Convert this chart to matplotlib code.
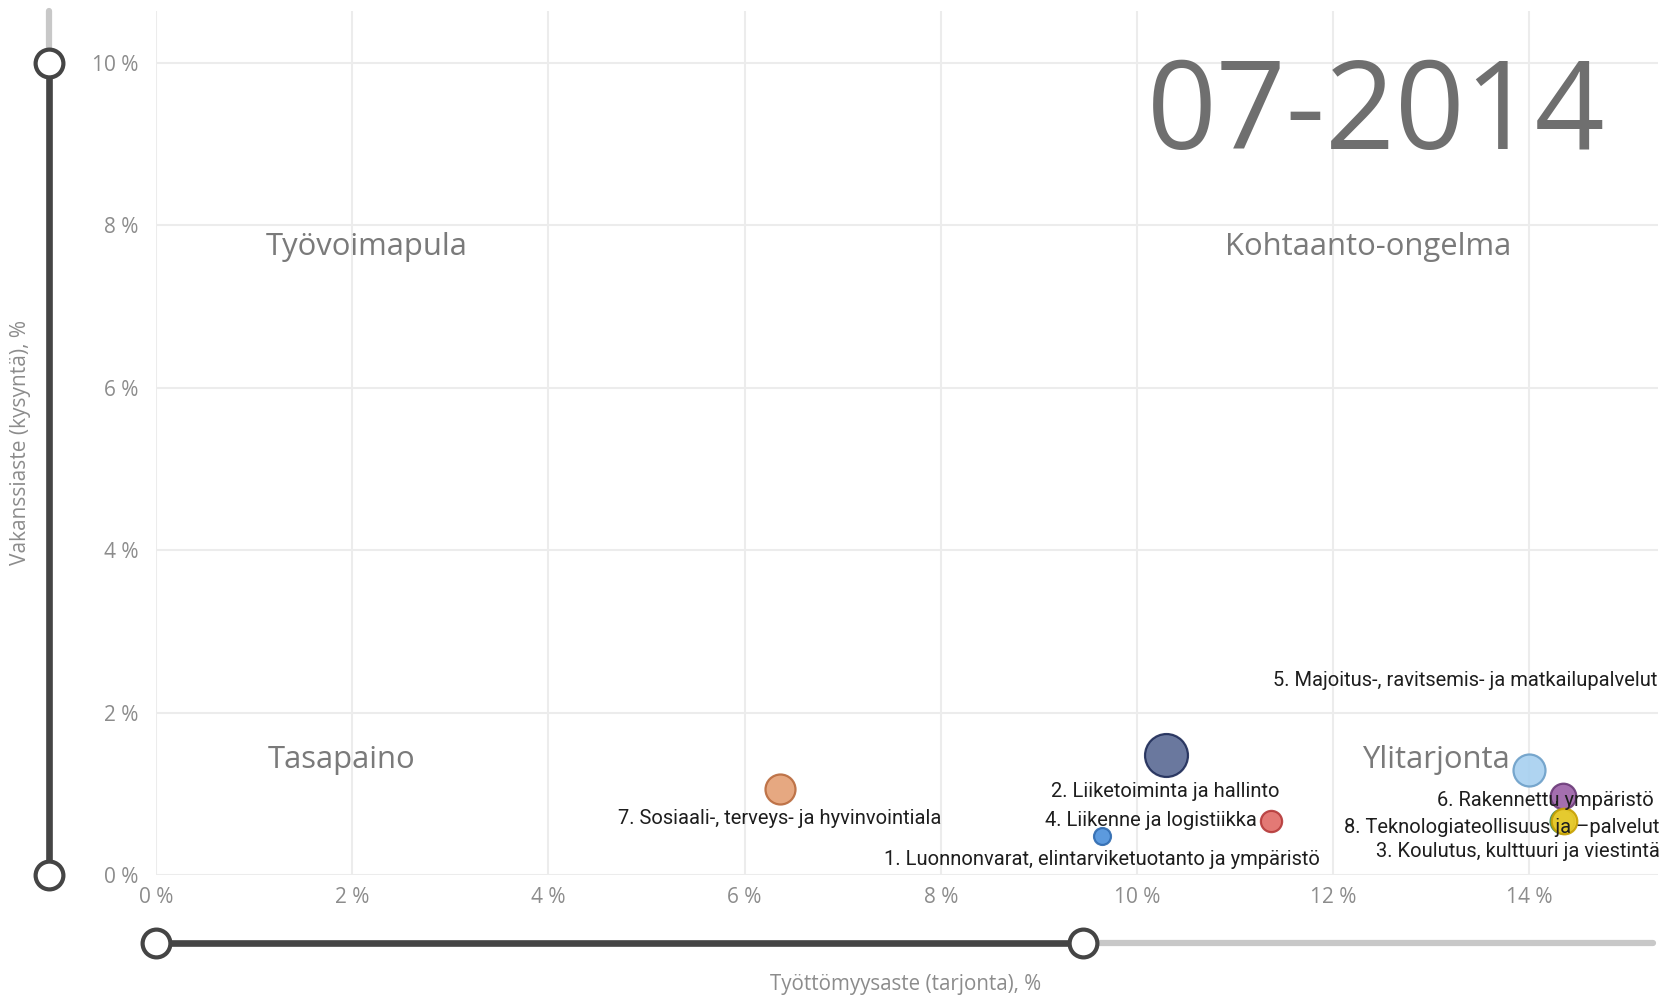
import matplotlib
matplotlib.use("Agg")
import matplotlib.pyplot as plt
from matplotlib.transforms import blended_transform_factory

# Toimialat (labels as shown), työttömyysaste (x) and vakanssiaste (y), bubble size
toimialat = [
    "1. Luonnonvarat, elintarviketuotanto ja ympäristö",
    "2. Liiketoiminta ja hallinto",
    "3. Koulutus, kulttuuri ja viestintä",
    "4. Liikenne ja logistiikka",
    "5. Majoitus-, ravitsemis- ja matkailupalvelut",
    "6. Rakennettu ympäristö",
    "7. Sosiaali-, terveys- ja hyvinvointiala",
    "8. Teknologiateollisuus ja \u2013palvelut",
]
tyottomyys = [9.64, 10.29, 14.33, 11.36, 14.0, 14.34, 6.36, 14.35]
vakanssi = [0.48, 1.48, 0.66, 0.67, 1.29, 0.97, 1.06, 0.67]
koko = [7, 45, 14, 11, 25, 16, 22, 16]

kausi = "07-2014"
x_ticks = [0, 2, 4, 6, 8, 10, 12, 14]
y_ticks = [0, 2, 4, 6, 8, 10]
x_suodatin = [0, 9.45]
y_suodatin = [0, 10]

# styles
fills = ["#4a8fdb", "#5a6994", "#5fb88a", "#e06a66", "#a6d0f0", "#9a5fa6", "#e49f73", "#f3cc24"]
edges = ["#2f6bb0", "#1e2b57", "#3b8a60", "#b53a3a", "#6c9fc8", "#6b3a78", "#b96a3d", "#c6a000"]
# label offsets (pixels) relative to bubble centre
offsets = [(0, -24), (0, -37), (-44, -30), (-14, 0), (-64, 90), (-17, -4), (0, -30), (-62, -7)]
aligns = ["center", "center", "center", "right", "center", "center", "center", "center"]

fig = plt.figure(figsize=(16.62, 9.97), dpi=100)
ax = fig.add_axes([0.0939, 0.1224, 0.9037, 0.8668])
ax.set_xlim(0, 15.31)
ax.set_ylim(0, 10.64)

for s in ax.spines.values():
    s.set_visible(False)
ax.set_xticks(x_ticks)
ax.set_yticks(y_ticks)
ax.set_xticklabels([f"{t} %" for t in x_ticks])
ax.set_yticklabels([f"{t} %" for t in y_ticks])
ax.tick_params(length=0, labelsize=15, labelcolor="#8c8c8c")
ax.tick_params(axis="y", pad=13)
ax.tick_params(axis="x", pad=9)
for lab in ax.get_xticklabels() + ax.get_yticklabels():
    lab.set_family("Open Sans")
ax.grid(True, color="#ececec", linewidth=1.5)
ax.set_axisbelow(True)

# quadrant names and period
quad = dict(fontsize=22.3, color="#7a7a7a", family="Open Sans", ha="center", va="center")
ax.text(2.15, 7.73, "Työvoimapula", **quad)
ax.text(12.36, 7.73, "Kohtaanto-ongelma", **quad)
ax.text(1.89, 1.42, "Tasapaino", **quad)
ax.text(13.05, 1.42, "Ylitarjonta", **quad)
ax.text(12.44, 9.33, kausi, fontsize=88, color="#6f6f6f", family="Open Sans",
        ha="center", va="center")

# bubbles
for i in range(len(toimialat)):
    r = koko[i] ** 0.5 * 3.2
    ax.scatter(tyottomyys[i], vakanssi[i], s=(1.44 * r) ** 2, color=fills[i],
               edgecolors=edges[i], linewidths=1.6, alpha=0.9, zorder=3)
for i in range(len(toimialat)):
    ax.annotate(toimialat[i], (tyottomyys[i], vakanssi[i]), xytext=offsets[i],
                textcoords="offset pixels", ha=aligns[i], va="center",
                fontsize=14.5, family="Roboto", color="#1e1e1e", zorder=4)

# slicers
vtr = blended_transform_factory(fig.transFigure, ax.transData)
htr = blended_transform_factory(ax.transData, fig.transFigure)
vx = 0.0294
hy = 0.0538
ax.plot([vx, vx], [y_suodatin[1], 10.64], transform=vtr, color="#c8c8c8", lw=4.5,
        clip_on=False, solid_capstyle="round", zorder=1)
ax.plot([vx, vx], y_suodatin, transform=vtr, color="#454545", lw=4.8,
        clip_on=False, zorder=2)
ax.plot([vx, vx], y_suodatin, transform=vtr, ls="none", marker="o", ms=20,
        mfc="white", mec="#454545", mew=3, clip_on=False, zorder=5)
ax.plot([x_suodatin[1], 15.26], [hy, hy], transform=htr, color="#c8c8c8", lw=4.5,
        clip_on=False, solid_capstyle="round", zorder=1)
ax.plot(x_suodatin, [hy, hy], transform=htr, color="#454545", lw=4.8,
        clip_on=False, zorder=2)
ax.plot(x_suodatin, [hy, hy], transform=htr, ls="none", marker="o", ms=20,
        mfc="white", mec="#454545", mew=3, clip_on=False, zorder=5)

fig.text(0.545, 0.013, "Työttömyysaste (tarjonta), %", ha="center", va="center",
         fontsize=14.8, color="#8c8c8c", family="Open Sans")
fig.text(0.0126, 0.556, "Vakanssiaste (kysyntä), %", ha="center", va="center",
         rotation=90, fontsize=15, color="#8c8c8c", family="Open Sans")

fig.savefig("out.png", dpi=100)
